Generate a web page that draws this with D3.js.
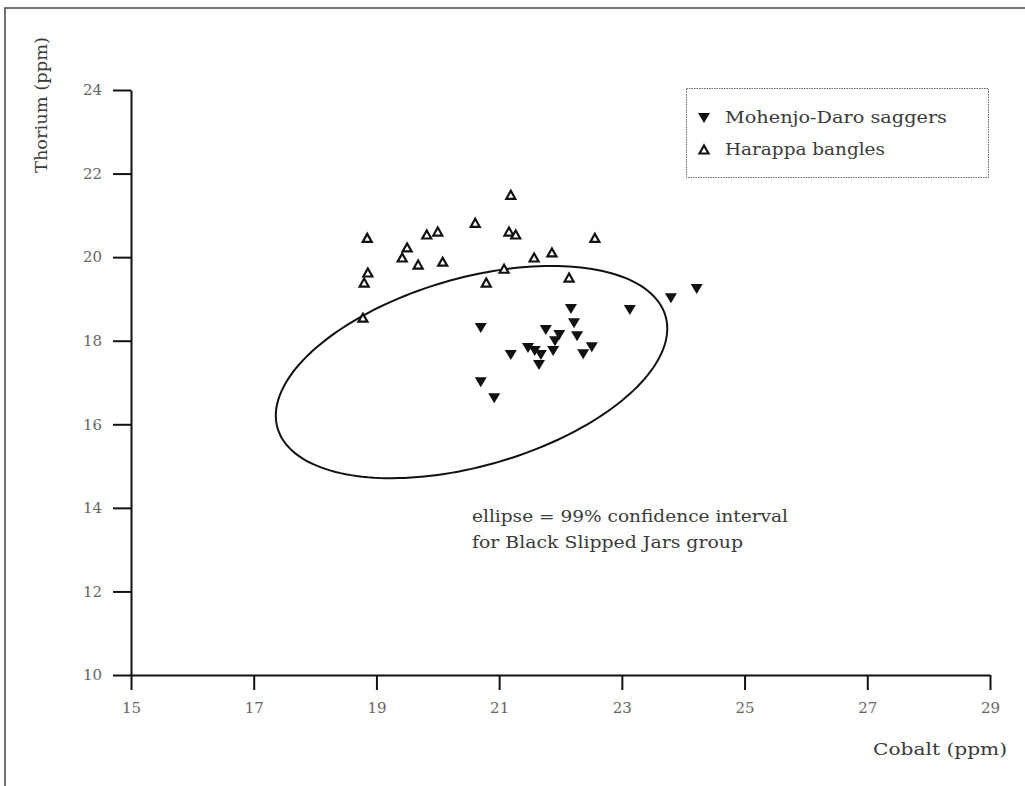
<!DOCTYPE html>
<html>
<head>
<meta charset="utf-8">
<title>Thorium vs Cobalt</title>
<script src="https://d3js.org/d3.v7.min.js"></script>
<style>
    body { margin: 0; background: #fff; }
    svg { display: block; }
    text { font-family: "DejaVu Serif", "Liberation Serif", serif; fill: #3a3a3a; }
    .axis path, .axis line { stroke: #111; stroke-width: 2px; }
    .axis text { font-family: "DejaVu Serif", serif; font-size: 15px; fill: #666; }
</style>
</head>
<body>
<svg width="1025" height="786"></svg>
<script>
// x ticks / y ticks
const xTicks = [15, 17, 19, 21, 23, 25, 27, 29];
const yTicks = [10, 12, 14, 16, 18, 20, 22, 24];

// Mohenjo-Daro saggers: [cobalt, thorium]
const saggers = [
    [24.22, 19.26], [23.80, 19.04], [23.13, 18.76], [22.17, 18.78], [22.22, 18.44],
    [20.70, 18.33], [21.76, 18.28], [21.98, 18.16], [22.27, 18.13], [21.91, 18.01],
    [21.47, 17.85], [21.58, 17.78], [21.68, 17.68], [21.88, 17.78], [22.51, 17.87],
    [22.37, 17.70], [21.19, 17.68], [21.65, 17.44], [20.70, 17.03], [20.92, 16.65]
];

// Harappa bangles: [cobalt, thorium]
const bangles = [
    [21.19, 21.48], [20.61, 20.81], [21.16, 20.60], [21.27, 20.53], [18.85, 20.45],
    [19.82, 20.53], [20.00, 20.60], [22.56, 20.45], [19.50, 20.22], [19.42, 19.98],
    [19.68, 19.81], [20.08, 19.88], [21.57, 19.98], [21.86, 20.10], [18.86, 19.62],
    [18.80, 19.38], [21.08, 19.71], [20.79, 19.38], [22.14, 19.50], [18.78, 18.54]
];

// 99% confidence ellipse (Black Slipped Jars): centre, half-extents, correlation
const ellipseCenter = [20.55, 17.25];
const ellipseHalf = [3.19, 2.54];
const ellipseCorr = 0.41;

const svg = d3.select("svg");

const x = d3.scaleLinear().domain([15, 29]).range([131, 990]);
const y = d3.scaleLinear().domain([10, 24]).range([675, 90]);

// outer frame (top and left edges)
svg.append("path")
    .attr("d", "M5,786V8H1025")
    .attr("fill", "none")
    .attr("stroke", "#444")
    .attr("stroke-width", 1.5);

// axes
svg.append("g")
    .attr("class", "axis")
    .attr("transform", `translate(0,${y(10)})`)
    .call(d3.axisBottom(x).tickValues(xTicks).tickSize(15).tickSizeOuter(0).tickPadding(12));

svg.append("g")
    .attr("class", "axis")
    .attr("transform", `translate(${x(15)},0)`)
    .call(d3.axisLeft(y).tickValues(yTicks).tickSize(18).tickSizeOuter(0).tickPadding(11));

// ellipse
const ePts = d3.range(0, 361, 2).map(deg => {
    const t = deg * Math.PI / 180;
    const u = Math.cos(t), v = Math.sin(t);
    return [
        ellipseCenter[0] + ellipseHalf[0] * u,
        ellipseCenter[1] + ellipseHalf[1] * (ellipseCorr * u + Math.sqrt(1 - ellipseCorr * ellipseCorr) * v)
    ];
});
svg.append("path")
    .datum(ePts)
    .attr("d", d3.line().x(d => x(d[0])).y(d => y(d[1])).curve(d3.curveLinearClosed))
    .attr("fill", "none")
    .attr("stroke", "#111")
    .attr("stroke-width", 2);

// markers
const downTri = "M-6,-4L6,-4L0,6Z";
const upTri = "M-4.5,3.5L4.5,3.5L0,-4.5Z";

svg.append("g").selectAll("path")
    .data(bangles)
    .join("path")
    .attr("transform", d => `translate(${x(d[0])},${y(d[1])})`)
    .attr("d", upTri)
    .attr("fill", "#fff")
    .attr("stroke", "#111")
    .attr("stroke-width", 2.2);

svg.append("g").selectAll("path")
    .data(saggers)
    .join("path")
    .attr("transform", d => `translate(${x(d[0])},${y(d[1])})`)
    .attr("d", downTri)
    .attr("fill", "#111");

// legend
const lg = svg.append("g");
lg.append("rect")
    .attr("x", 686.5).attr("y", 88.5)
    .attr("width", 302).attr("height", 89)
    .attr("fill", "none")
    .attr("stroke", "#666")
    .attr("stroke-dasharray", "1.5,1");
lg.append("path").attr("d", downTri).attr("transform", "translate(704,117)").attr("fill", "#111");
lg.append("path").attr("d", upTri).attr("transform", "translate(704,150)")
    .attr("fill", "#fff").attr("stroke", "#111").attr("stroke-width", 2.2);
lg.append("text").attr("x", 725).attr("y", 123).attr("font-size", 17)
    .attr("textLength", 222).attr("lengthAdjust", "spacingAndGlyphs").text("Mohenjo-Daro saggers");
lg.append("text").attr("x", 725).attr("y", 155).attr("font-size", 17)
    .attr("textLength", 160).attr("lengthAdjust", "spacingAndGlyphs").text("Harappa bangles");

// annotation
svg.append("text").attr("x", 472).attr("y", 522).attr("font-size", 17)
    .attr("textLength", 316).attr("lengthAdjust", "spacingAndGlyphs")
    .text("ellipse = 99% confidence interval");
svg.append("text").attr("x", 472).attr("y", 548).attr("font-size", 17)
    .attr("textLength", 271).attr("lengthAdjust", "spacingAndGlyphs")
    .text("for Black Slipped Jars group");

// axis titles
svg.append("text")
    .attr("transform", "translate(47,105) rotate(-90)")
    .attr("text-anchor", "middle")
    .attr("font-size", 17)
    .attr("textLength", 136).attr("lengthAdjust", "spacingAndGlyphs")
    .text("Thorium (ppm)");
svg.append("text")
    .attr("x", 1007).attr("y", 755)
    .attr("text-anchor", "end")
    .attr("font-size", 17)
    .attr("textLength", 134).attr("lengthAdjust", "spacingAndGlyphs")
    .text("Cobalt (ppm)");
</script>
</body>
</html>
